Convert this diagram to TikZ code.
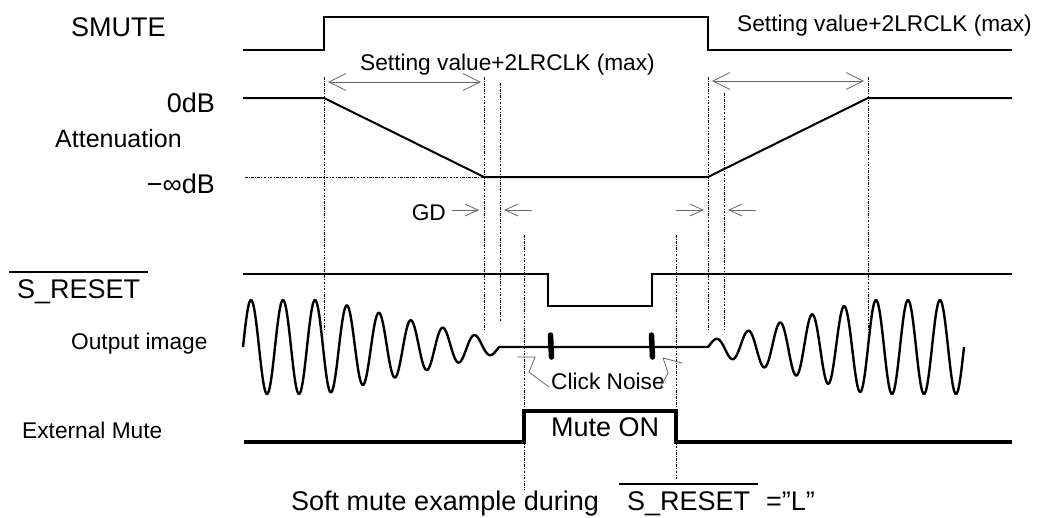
\documentclass[tikz,border=0pt]{standalone}
\usepackage{fontspec}
\setmainfont{Liberation Sans}

\begin{document}
\begin{tikzpicture}[x=1pt,y=1pt,
    sig/.style={black,line width=2pt,line join=miter},
    guide/.style={black,line width=0.7pt,dash pattern=on 2.5pt off 1.5pt on 0.7pt off 1.5pt},
    dimline/.style={black!60,line width=0.8pt},
    biglabel/.style={anchor=base west,font=\fontsize{27}{32}\selectfont},
    smalllabel/.style={anchor=base west,font=\fontsize{22.7}{27}\selectfont}]
    \tikzstyle{every node}+=[inner sep=0pt]
    \fill [white] (0,0) rectangle (1044,-517);
    \useasboundingbox (0,0) rectangle (1044,-517);
    \node [biglabel] (smute) at (71,-36) {SMUTE};
    \node [biglabel,anchor=base east] (zerodb) at (215,-112) {0dB};
    \node [anchor=base west,font=\fontsize{25}{30}\selectfont] (atten) at (55,-147) {Attenuation};
    \node [biglabel,anchor=base east] (infdb) at (215,-193) {−∞dB};
    \node [smalllabel] (setl) at (360,-70) {Setting value+2LRCLK (max)};
    \node [smalllabel] (setr) at (737,-31.5) {Setting value+2LRCLK (max)};
    \node [smalllabel,anchor=base east] (gd) at (446,-220) {GD};
    \node [biglabel] (sreset) at (17,-298) {S\_RESET};
    \draw [sig] ([shift={(-8,7)}]sreset.north west) -- ([shift={(8,7)}]sreset.north east);
    \node [smalllabel] (outimg) at (71,-349) {Output image};
    \node [smalllabel] (extmute) at (22,-438) {External Mute};
    \node [smalllabel] (click) at (551,-389) {Click Noise};
    \node [biglabel] (muteon) at (551,-436.5) {Mute ON};
    \node [biglabel] (caption) at (291,-510) {Soft mute example during};
    \node [biglabel] (capsig) at (627,-510) {S\_RESET};
    \node [biglabel] (capval) at (766,-510) {=”L”};
    \draw [sig] ([shift={(-8,7)}]capsig.north west) -- ([shift={(8,7)}]capsig.north east);
    \draw [sig] (243,-50) -- (324,-50) -- (324,-17) -- (708,-17) -- (708,-50) -- (1012,-50);
    \draw [sig] (243,-98) -- (324,-98) -- (484,-177) -- (708,-177) -- (868,-98) -- (1012,-98);
    \draw [sig] (243,-274) -- (548,-274) -- (548,-306) -- (652,-306) -- (652,-274) -- (1012,-274);
    \draw [sig,line width=3.5pt] (244,-442) -- (524,-442) -- (524,-411) -- (676,-411) -- (676,-442) -- (1012,-442);
    \draw [sig,line width=2.4pt,line join=round]
        plot [domain=243:499,samples=400] (\x,{-347+min(47,6+41*(500-\x)/176)*sin(11.25*(\x-243))})
        -- (708,-347)
        -- plot [domain=708:964,samples=400] (\x,{-347+min(47,6+41*(\x-708)/160)*sin(11.25*(\x-708))});
    \draw [black,line width=5.5pt,line cap=round] (550.5,-335) -- (551.5,-357);
    \draw [black,line width=5.5pt,line cap=round] (651.5,-335) -- (652.5,-357);
    \foreach \gx/\gtop/\gbot in {324/77/330,484/77/330,500/83/322,708/77/330,724/93/330,868/77/330,524/235/490,676/235/480}
        \draw [guide] (\gx,-\gtop) -- (\gx,-\gbot);
    \draw [guide] (245,-177) -- (484,-177);
    \draw [dimline] (329,-82) -- (480,-82);
    \draw [dimline] (346,-73.5) -- (329,-82) -- (346,-90.5);
    \draw [dimline] (463,-73.5) -- (480,-82) -- (463,-90.5);
    \draw [dimline] (713,-81) -- (863,-81);
    \draw [dimline] (730,-72.5) -- (713,-81) -- (730,-89.5);
    \draw [dimline] (846,-72.5) -- (863,-81) -- (846,-89.5);
    \draw [dimline] (452,-210) -- (478,-210);
    \draw [dimline] (465,-204) -- (478,-210) -- (465,-216);
    \draw [dimline] (532,-210) -- (505,-210);
    \draw [dimline] (518,-204) -- (505,-210) -- (518,-216);
    \draw [dimline] (676,-210) -- (703,-210);
    \draw [dimline] (690,-204) -- (703,-210) -- (690,-216);
    \draw [dimline] (756,-210) -- (729,-210);
    \draw [dimline] (742,-204) -- (729,-210) -- (742,-216);
    \draw [dimline] (517,-357) -- (535,-357) -- (529,-372) -- (549,-387);
    \draw [dimline] (682,-363) -- (663,-358) -- (668,-373) -- (660,-388);
\end{tikzpicture}
\end{document}
